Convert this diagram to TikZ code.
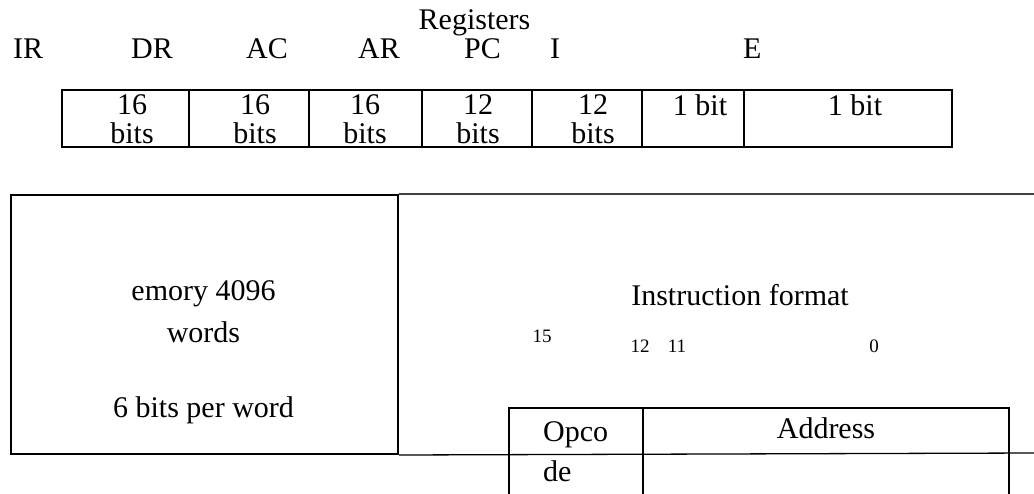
\documentclass[tikz,border=0pt]{standalone}
\usepackage{fontspec}
\setmainfont{Liberation Serif}
\begin{document}
\begin{tikzpicture}[x=1pt, y=-1pt, font=\fontsize{30}{30}\selectfont,
    box/.style={line width=2pt},
    frame/.style={line width=1.3pt, black!75},
    lbl/.style={inner sep=0pt, anchor=base},
    bitno/.style={inner sep=0pt, anchor=base, font=\fontsize{19}{19}\selectfont}]
        \useasboundingbox (0,0) rectangle (1034,493);

        % Register names
        \node[lbl] (regs) at (474.5,29) {Registers};
        \node[lbl, anchor=base west] (ir) at (13,58) {IR};
        \node[lbl, anchor=base west] (dr) at (131,58) {DR};
        \node[lbl, anchor=base west] (ac) at (246,58) {AC};
        \node[lbl, anchor=base west] (ar) at (358,58) {AR};
        \node[lbl, anchor=base west] (pc) at (464,58) {PC};
        \node[lbl, anchor=base west] (i) at (550,58) {I};
        \node[lbl, anchor=base west] (e) at (743,58) {E};

        % Register cells
        \draw[box] (62,90) rectangle (952,147);
        \draw[box] (189,90) -- (189,147);
        \draw[box] (309,90) -- (309,147);
        \draw[box] (422,90) -- (422,147);
        \draw[box] (532,90) -- (532,147);
        \draw[box] (642,90) -- (642,147);
        \draw[box] (744,90) -- (744,147);

        \node[lbl] (irtop) at (132,114) {16};
        \node[lbl] (irbot) at (132,143) {bits};
        \node[lbl] (drtop) at (255,114) {16};
        \node[lbl] (drbot) at (255,143) {bits};
        \node[lbl] (actop) at (365,114) {16};
        \node[lbl] (acbot) at (365,143) {bits};
        \node[lbl] (artop) at (478,114) {12};
        \node[lbl] (arbot) at (478,143) {bits};
        \node[lbl] (pctop) at (593,114) {12};
        \node[lbl] (pcbot) at (593,143) {bits};
        \node[lbl] (itop) at (700,115) {1 bit};
        \node[lbl] (etop) at (855,115) {1 bit};

        % Memory
        \node[draw, box, rectangle, inner sep=0pt, anchor=north west,
              minimum width=387, minimum height=259] (mem) at (10,194) {};
        \coordinate (topend) at (1034,194);
        \coordinate (botend) at (1034,453);
        \draw[frame] (mem.north east) -- (topend);
        \draw[line width=1.3pt] (mem.south east) -- (botend);

        \node[lbl] (mem1) at (203.5,300) {emory 4096};
        \node[lbl] (mem2) at (203.5,342) {words};
        \node[lbl] (mem3) at (203.5,417) {6 bits per word};

        % Instruction format
        \node[lbl] (fmt) at (740,305) {Instruction format};
        \node[bitno] (b15) at (542,342) {15};
        \node[bitno] (b12) at (640,352) {12};
        \node[bitno] (b11) at (677,352) {11};
        \node[bitno] (b0) at (874,352) {0};

        \draw[box] (509,495) -- (509,408) -- (1009,408) -- (1009,495);
        \draw[box] (643,408) -- (643,495);
        \node[lbl, anchor=base west] (opco) at (543,441) {Opco};
        \node[lbl, anchor=base west] (opde) at (543,481) {de};
        \node[lbl] (addr) at (826,438) {Address};
    \end{tikzpicture}
\end{document}
